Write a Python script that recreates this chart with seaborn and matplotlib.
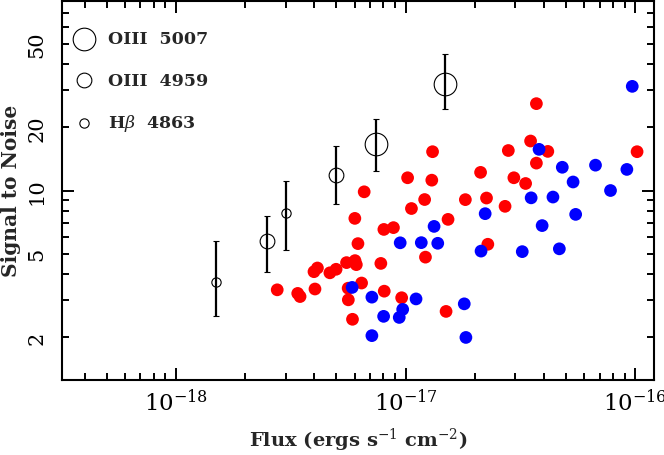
import matplotlib
matplotlib.use("Agg")
import matplotlib.pyplot as plt
import matplotlib.ticker as mticker
import numpy as np
import pandas as pd
import seaborn as sns

# fluxes in units of 1e-18 erg s^-1 cm^-2
red_flux = [37.1, 35.0, 41.6, 28.0, 13.1, 37.1, 21.2, 29.6, 33.3, 10.2, 13.0,
            12.1, 18.2, 22.5, 27.1, 10.6, 15.3, 22.8, 12.2, 15.0, 101.8, 6.60,
            6.01, 8.04, 8.85, 6.20, 7.80, 6.02, 5.53, 6.10, 4.98, 4.68, 4.13,
            3.99, 2.76, 3.39, 3.47, 4.03, 6.43, 5.62, 5.63, 8.07, 9.61, 5.87]
red_sn = [25.9, 17.2, 15.35, 15.5, 15.3, 13.5, 12.2, 11.5, 10.8, 11.5, 11.2,
          9.06, 9.05, 9.21, 8.41, 8.21, 7.29, 5.55, 4.82, 2.66, 15.3, 9.86,
          7.37, 6.53, 6.66, 5.59, 4.50, 4.64, 4.54, 4.44, 4.22, 4.06, 4.28,
          4.11, 3.37, 3.24, 3.13, 3.40, 3.63, 3.43, 3.02, 3.32, 3.09, 2.44]

blue_flux = [97.0, 38.1, 48.1, 67.1, 91.9, 53.6, 78.0, 35.2, 43.8, 22.2, 55.0,
             39.3, 13.3, 11.7, 13.8, 9.47, 21.3, 32.2, 46.7, 5.85, 7.13, 11.1,
             9.71, 9.38, 8.02, 18.0, 7.13, 18.3]
blue_sn = [31.3, 15.7, 12.9, 13.2, 12.6, 10.98, 10.0, 9.23, 9.31, 7.76, 7.70,
           6.81, 6.75, 5.65, 5.61, 5.64, 5.15, 5.12, 5.28, 3.46, 3.11, 3.05,
           2.72, 2.49, 2.52, 2.89, 2.04, 2.00]

# stacked emission-line detections with error bars
line_name = ["Hb", "OIII4959", "Hb", "OIII4959", "OIII5007", "OIII5007"]
line_flux = [1.5, 2.5, 3.0, 5.0, 7.45, 14.85]
line_sn = [3.66, 5.74, 7.80, 11.8, 16.6, 32.0]
line_lo = [2.53, 4.11, 5.20, 8.61, 12.45, 24.5]
line_hi = [5.78, 7.55, 11.16, 16.2, 22.0, 44.4]

LINE_SIZE = {"OIII5007": 16.3, "OIII4959": 10.6, "Hb": 6.7}
LEGEND = [("OIII5007", "OIII  5007"), ("OIII4959", "OIII  4959"),
          ("Hb", r"H$\beta$  4863")]

sns.set_style("ticks")
plt.rcParams["font.family"] = ["DejaVu Serif"]
plt.rcParams["mathtext.fontset"] = "dejavuserif"

pts = pd.DataFrame({
    "flux": np.r_[red_flux, blue_flux] * 1e-18,
    "sn": np.r_[red_sn, blue_sn],
    "group": ["red"] * len(red_flux) + ["blue"] * len(blue_flux),
})
lines = pd.DataFrame({"name": line_name, "flux": np.array(line_flux) * 1e-18,
                      "sn": line_sn, "lo": line_lo, "hi": line_hi})

fig = plt.figure(figsize=(6.64, 4.56), dpi=100)
ax = fig.add_axes([0.0929, 0.1645, 0.8925, 0.8318])
ax.set_xscale("log")
ax.set_yscale("log")

sns.scatterplot(data=pts, x="flux", y="sn", hue="group",
                palette={"red": "#ff0000", "blue": "#0000ff"},
                s=84, linewidth=0, legend=False, ax=ax)

for _, r in lines.iterrows():
    ax.errorbar(r["flux"], r["sn"], yerr=[[r["sn"] - r["lo"]], [r["hi"] - r["sn"]]],
                fmt="o", mfc="none", mec="black", mew=0.8, ms=LINE_SIZE[r["name"]],
                ecolor="black", elinewidth=1.6, capsize=2.2, capthick=1.6, zorder=3)

# hand-made legend in the upper left
for (key, label), yy in zip(LEGEND, [0.900, 0.790, 0.678]):
    ax.plot([0.0377], [yy], "o", mfc="none", mec="black", mew=0.8,
            ms=LINE_SIZE[key], transform=ax.transAxes)
    ax.text(0.078, yy, label, transform=ax.transAxes, va="center", ha="left",
            fontsize=12.5, fontweight="bold")

ax.set_xlim(3.18e-19, 1.21e-16)
ax.set_ylim(1.255, 80)

ax.xaxis.set_major_locator(mticker.LogLocator(base=10))
ax.xaxis.set_minor_locator(mticker.LogLocator(base=10, subs=np.arange(2, 10)))
ax.xaxis.set_minor_formatter(mticker.NullFormatter())
ax.yaxis.set_major_locator(mticker.LogLocator(base=10))
ax.yaxis.set_minor_locator(mticker.LogLocator(base=10, subs=np.arange(2, 10)))


def sn_fmt(v, pos):
    lead = round(v / 10 ** np.floor(np.log10(v) + 1e-9))
    return f"{v:g}" if lead in (1, 2, 5) else ""


ax.yaxis.set_major_formatter(mticker.FuncFormatter(sn_fmt))
ax.yaxis.set_minor_formatter(mticker.FuncFormatter(sn_fmt))

ax.tick_params(which="both", direction="in", top=True, right=True, width=1.4,
               colors="black")
ax.tick_params(which="major", length=8.6)
ax.tick_params(which="minor", length=4.7)
ax.tick_params(axis="x", which="major", labelsize=16.5, pad=6)
ax.tick_params(axis="y", which="both", labelsize=15, pad=11, labelrotation=90)
for lab in ax.get_yticklabels(which="both"):
    lab.set_va("center")

for sp in ax.spines.values():
    sp.set_linewidth(1.5)
    sp.set_color("black")

ax.set_xlabel(r"Flux (ergs s$^{-1}$ cm$^{-2}$)", fontsize=14, fontweight="bold")
ax.set_ylabel("Signal to Noise", fontsize=14.5, fontweight="bold")
ax.xaxis.set_label_coords(0.5, -0.12)
ax.yaxis.set_label_coords(-0.068, 0.5)

fig.savefig("out.png", dpi=100)
